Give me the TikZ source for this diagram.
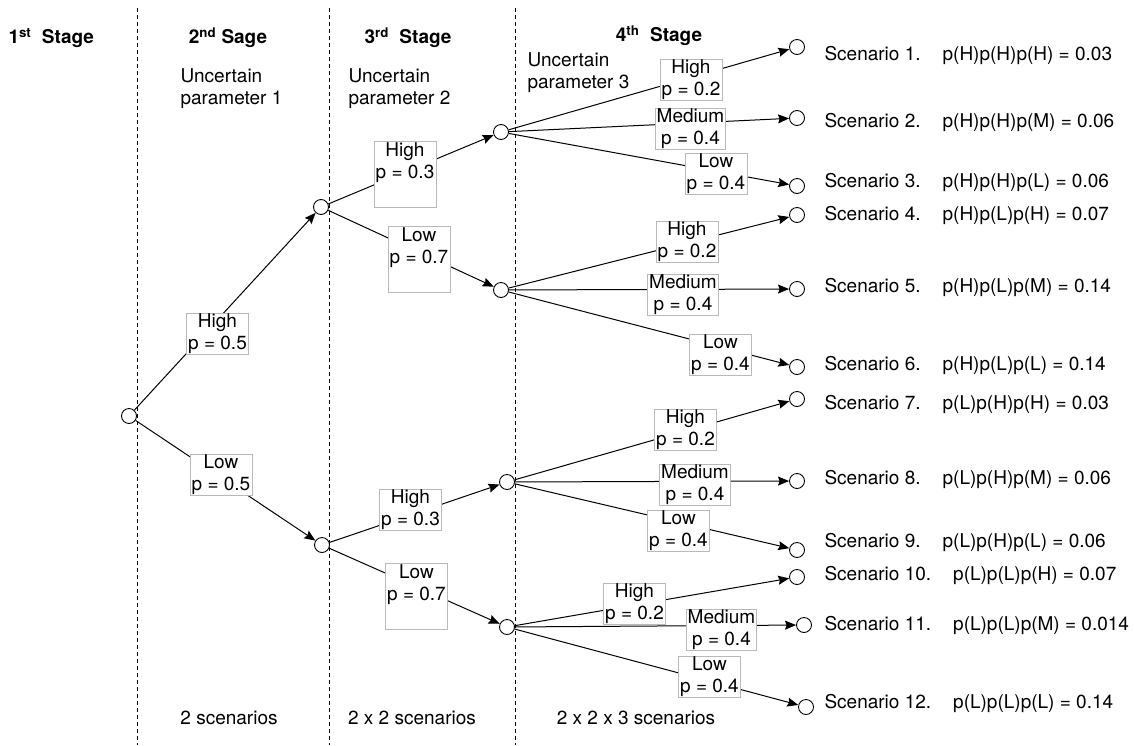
\documentclass[tikz,border=0pt]{standalone}
\usepackage{fontspec}
\setmainfont{TeX Gyre Heros}
\usetikzlibrary{arrows.meta}
\begin{document}
\begin{tikzpicture}[x=1pt,y=-1pt,
  base/.style={font=\fontsize{19}{22}\selectfont},
  head/.style={base,font=\fontsize{19}{22}\selectfont\bfseries},
  state/.style={circle,draw,line width=0.9pt,fill=white,minimum size=15pt,inner sep=0pt},
  arr/.style={line width=1pt,-{Stealth[length=11pt,width=9pt,inset=1.5pt]}},
  lbl/.style={base,draw=gray!55,line width=0.6pt,fill=white,align=center,inner xsep=1.5pt,inner ysep=0.5pt},
  divider/.style={line width=0.9pt,dash pattern=on 4pt off 3pt},
  scen/.style={base,anchor=west}]
\useasboundingbox (0,0) rectangle (1135,745);

% stage dividers
\draw[divider] (137,8) -- (137,745);
\draw[divider] (329,8) -- (329,745);
\draw[divider] (515,8) -- (515,745);

% headings
\node[head,anchor=west] (h1) at (5,38) {1\textsuperscript{st}\ \ Stage};
\node[head] (h2) at (228,38) {2\textsuperscript{nd} Sage};
\node[head] (h3) at (408,38) {3\textsuperscript{rd}\ \ Stage};
\node[head] (h4) at (659,36) {4\textsuperscript{th}\ \ Stage};
\node[base,anchor=west,align=left] (u1) at (177,89) {Uncertain\\parameter 1};
\node[base,anchor=west,align=left] (u2) at (345,89) {Uncertain\\parameter 2};
\node[base,anchor=west,align=left] (u3) at (524,73) {Uncertain\\parameter 3};

% scenario counts
\node[base] (c2) at (229,718) {2 scenarios};
\node[base] (c3) at (412,718) {2 x 2 scenarios};
\node[base] (c4) at (636,718) {2 x 2 x 3 scenarios};

% decision nodes
\node[state] (r) at (129,416) {};
\node[state] (a) at (321,207) {};
\node[state] (b) at (322,545) {};
\node[state] (aa) at (501,132) {};
\node[state] (ab) at (501,290) {};
\node[state] (ba) at (507,482) {};
\node[state] (bb) at (507,627) {};

% leaves
\node[state] (l1) at (797,47) {};
\node[state] (l2) at (797,118) {};
\node[state] (l3) at (797,186) {};
\node[state] (l4) at (797,215) {};
\node[state] (l5) at (797,289) {};
\node[state] (l6) at (797,367) {};
\node[state] (l7) at (797,399) {};
\node[state] (l8) at (797,481) {};
\node[state] (l9) at (797,550) {};
\node[state] (l10) at (797,577) {};
\node[state] (l11) at (804,625) {};
\node[state] (l12) at (806,707) {};

% branches
\draw[arr] (r) -- (a);
\draw[arr] (r) -- (b);
\draw[arr] (a) -- (aa);
\draw[arr] (a) -- (ab);
\draw[arr] (b) -- (ba);
\draw[arr] (b) -- (bb);
\draw[arr] (aa) -- (l1);
\draw[arr] (aa) -- (l2);
\draw[arr] (aa) -- (l3);
\draw[arr] (ab) -- (l4);
\draw[arr] (ab) -- (l5);
\draw[arr] (ab) -- (l6);
\draw[arr] (ba) -- (l7);
\draw[arr] (ba) -- (l8);
\draw[arr] (ba) -- (l9);
\draw[arr] (bb) -- (l10);
\draw[arr] (bb) -- (l11);
\draw[arr] (bb) -- (l12);

% branch probabilities
\node[lbl] (pa) at (217.5,334) {High\\p = 0.5};
\node[lbl] (pb) at (221,475) {Low\\p = 0.5};
\node[lbl] (paa) at (405,174.5) {High\\p = 0.3\\\strut};
\node[lbl] (pab) at (419,259.5) {Low\\p = 0.7\\\strut};
\node[lbl] (pba) at (410.5,510) {High\\p = 0.3};
\node[lbl] (pbb) at (416.5,596.5) {Low\\p = 0.7\\\strut};
\node[lbl] (p1) at (691,79.5) {High\\p = 0.2};
\node[lbl] (p2) at (690.5,129) {Medium\\p = 0.4};
\node[lbl] (p3) at (716,174) {Low\\p = 0.4};
\node[lbl] (p4) at (687,242) {High\\p = 0.2};
\node[lbl] (p5) at (683,295) {Medium\\p = 0.4};
\node[lbl] (p6) at (720.5,355) {Low\\p = 0.4};
\node[lbl] (p7) at (685.5,429.5) {High\\p = 0.2};
\node[lbl] (p8) at (695,484.5) {Medium\\p = 0.4};
\node[lbl] (p9) at (678.5,530.5) {Low\\p = 0.4};
\node[lbl] (p10) at (634.5,604) {High\\p = 0.2};
\node[lbl] (p11) at (721.5,630) {Medium\\p = 0.4};
\node[lbl] (p12) at (709.5,676.5) {Low\\p = 0.4};

% scenario outcomes
\node[scen] (s1) at (821,55) {Scenario 1.\hspace{22pt}p(H)p(H)p(H) = 0.03};
\node[scen] (s2) at (821,122) {Scenario 2.\hspace{22pt}p(H)p(H)p(M) = 0.06};
\node[scen] (s3) at (821,182) {Scenario 3.\hspace{22pt}p(H)p(H)p(L) = 0.06};
\node[scen] (s4) at (821,215) {Scenario 4.\hspace{22pt}p(H)p(L)p(H) = 0.07};
\node[scen] (s5) at (821,287) {Scenario 5.\hspace{22pt}p(H)p(L)p(M) = 0.14};
\node[scen] (s6) at (821,365) {Scenario 6.\hspace{22pt}p(H)p(L)p(L) = 0.14};
\node[scen] (s7) at (821,404) {Scenario 7.\hspace{22pt}p(L)p(H)p(H) = 0.03};
\node[scen] (s8) at (821,479) {Scenario 8.\hspace{22pt}p(L)p(H)p(M) = 0.06};
\node[scen] (s9) at (821,542) {Scenario 9.\hspace{22pt}p(L)p(H)p(L) = 0.06};
\node[scen] (s10) at (821,575) {Scenario 10.\hspace{22pt}p(L)p(L)p(H) = 0.07};
\node[scen] (s11) at (821,625) {Scenario 11.\hspace{22pt}p(L)p(L)p(M) = 0.014};
\node[scen] (s12) at (821,703) {Scenario 12.\hspace{22pt}p(L)p(L)p(L) = 0.14};
\end{tikzpicture}
\end{document}
